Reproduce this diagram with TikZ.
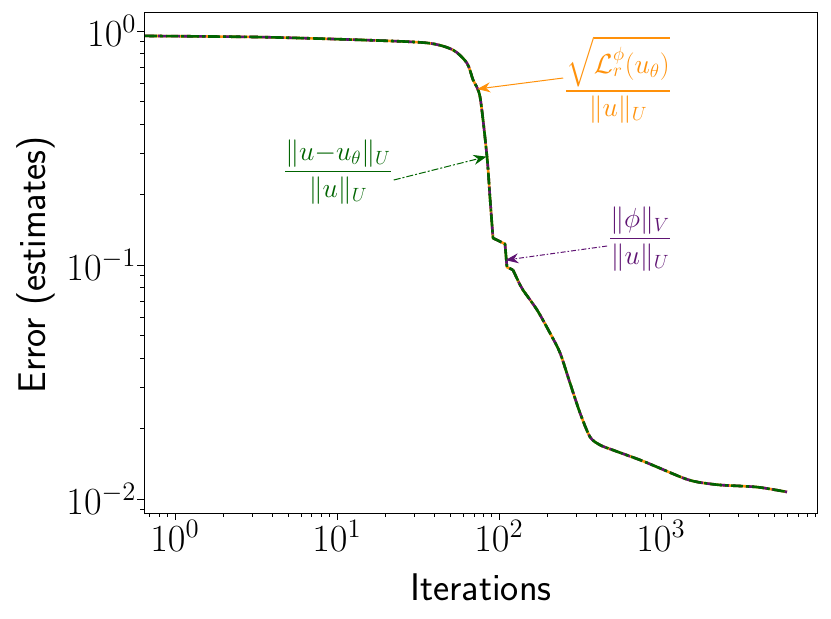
\documentclass[tikz,border=0pt]{standalone}
\usepackage{amsmath}
\usepackage{graphicx}
\usetikzlibrary{arrows.meta}
\definecolor{estorange}{RGB}{255,145,10}
\definecolor{estgreen}{RGB}{0,100,0}
\definecolor{estpurple}{RGB}{95,20,115}
\newcommand\ticktext[1]{\scalebox{1.85}{\huge $#1$}}
\newcommand\titletext[1]{\scalebox{1.55}{\Huge\sffamily #1}}
\tikzset{
  curve/.style={line width=2.6pt, line join=round},
  tick/.style={line width=0.8pt},
  note/.style={inner sep=1pt, font=\huge, scale=1.33},
}
\begin{document}
\begin{tikzpicture}[x=1pt, y=1pt]
  \useasboundingbox (0,0) rectangle (831,-619);
  \begin{scope}[shift={(175,-31)}, x=162pt, y=234pt]
    % frame
    \draw[line width=1pt] (-0.191,0.077) rectangle (3.963,-2.06);
    % x ticks
    \foreach \e in {0,1,2,3} {
      \draw[tick] (\e,-2.06) -- ++(0,-7pt);
      \node[anchor=north, inner sep=2pt] (xl\e) at (\e,-2.08) {\ticktext{10^{\e}}};
    }
    \foreach \e in {-1,0,1,2,3} \foreach \m in {2,...,9} {
      \pgfmathsetmacro\lx{\e+log10(\m)}
      \ifdim\lx pt>-0.19pt \ifdim\lx pt<3.96pt
        \draw[tick] (\lx,-2.06) -- ++(0,-4pt);
      \fi\fi
    }
    % y ticks
    \foreach \e/\t in {0/0,-1/-1,-2/-2} {
      \draw[tick] (-0.191,\e) -- ++(-7pt,0);
      \node[anchor=east, inner sep=2pt] (yl\t) at (-0.225,\e) {\ticktext{10^{\t}}};
    }
    \foreach \e in {-3,-2,-1} \foreach \m in {2,...,9} {
      \pgfmathsetmacro\ly{\e+log10(\m)}
      \ifdim\ly pt>-2.06pt \ifdim\ly pt<0.07pt
        \draw[tick] (-0.191,\ly) -- ++(-4pt,0);
      \fi\fi
    }
    % curves
    \def\errpath{plot[smooth, tension=0.45] coordinates {(-0.185,-0.021) (0.525,-0.026) (1.142,-0.038) (1.556,-0.051) (1.716,-0.081) (1.802,-0.137) (1.840,-0.209) (1.883,-0.282) (1.926,-0.538) (1.944,-0.709) (1.963,-0.885)}
      -- (2.037,-0.910) -- (2.049,-1.009) -- (2.086,-1.021)
      plot[smooth, tension=0.45] coordinates {(2.086,-1.021) (2.130,-1.085) (2.148,-1.107) (2.235,-1.192) (2.315,-1.291) (2.377,-1.376) (2.438,-1.504) (2.500,-1.632) (2.562,-1.735) (2.623,-1.769) (2.704,-1.791) (2.870,-1.833) (2.975,-1.863) (3.136,-1.910) (3.222,-1.927) (3.364,-1.940) (3.593,-1.949) (3.778,-1.970)}}
    \draw[curve, estorange] \errpath;
    \draw[curve, estpurple, dash pattern=on 9pt off 4pt] \errpath;
    \draw[curve, estgreen, dash pattern=on 12pt off 3pt on 3pt off 3pt] \errpath;
    % arrow targets
    \coordinate (tres) at (1.866,-0.248);
    \coordinate (terr) at (1.923,-0.537);
    \coordinate (tphi) at (2.040,-0.979);
  \end{scope}
  % annotations
  \node[note, estorange] (res) at (618,-80) {$\dfrac{\sqrt{\mathcal{L}_r^{\phi}(u_\theta)}}{\|u\|_U}$};
  \node[note, estgreen] (err) at (338,-172) {$\dfrac{\|u{-}u_\theta\|_U}{\|u\|_U}$};
  \node[note, estpurple] (phi) at (640,-239) {$\dfrac{\|\phi\|_V}{\|u\|_U}$};
  \draw[estorange, line width=1pt, -{Stealth[length=13pt,width=10pt]}] (res.west) ++(0,2) -- (tres);
  \draw[estgreen, line width=1pt, dash pattern=on 7pt off 2pt on 2pt off 2pt, -{Stealth[length=13pt,width=10pt]}] (err.east) ++(0,-8) -- (terr);
  \draw[estpurple, line width=1pt, dash pattern=on 5pt off 2pt on 1.5pt off 2pt, -{Stealth[length=13pt,width=10pt]}] (phi.west) ++(0,-7) -- (tphi);
  % axis titles
  \node (xtitle) at (481,-587) {\titletext{Iterations}};
  \node[rotate=90] (ytitle) at (36,-265) {\titletext{Error (estimates)}};
\end{tikzpicture}
\end{document}
